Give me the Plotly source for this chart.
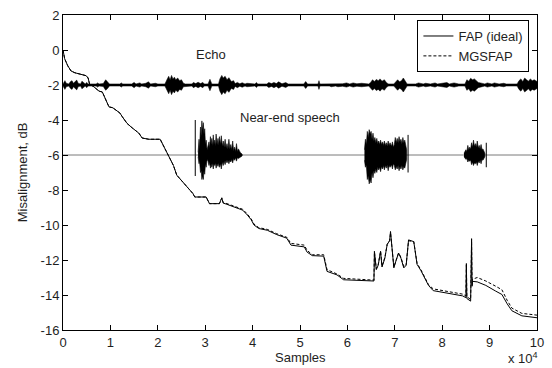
import plotly.graph_objects as go

# ---------------- data (x in units of 1e4 samples, y in dB) ----------------
fap_x = [0, 0.035, 0.1, 0.17, 0.25, 0.35, 0.49, 0.53, 0.56, 0.65, 0.76, 0.83, 0.9, 0.97,
         1.05, 1.11, 1.2, 1.25, 1.35, 1.46, 1.6, 1.67, 1.81, 2.05, 2.12, 2.19, 2.26, 2.33,
         2.40, 2.5, 2.64, 2.74, 2.78, 3.02, 3.09, 3.3, 3.35, 3.38, 3.44, 3.61, 3.79, 3.89,
         3.97, 4.03, 4.13, 4.31, 4.51, 4.72, 4.81, 5.09, 5.15, 5.26, 5.5, 5.57, 5.78, 5.92,
         6.35, 6.56, 6.57, 6.61, 6.65, 6.7, 6.73, 6.79, 6.84, 6.89, 6.91, 6.94, 6.98, 7.03,
         7.08, 7.13, 7.19, 7.24, 7.29, 7.4, 7.47, 7.55, 7.64, 7.71, 7.81, 8.01, 8.43, 8.5,
         8.51, 8.52, 8.6, 8.62, 8.63, 8.64, 8.74, 8.92, 9.13, 9.26, 9.37, 9.47, 9.68, 10.0]
fap_y = [0.0, -0.5, -0.9, -1.2, -1.3, -1.38, -1.47, -1.6, -1.94, -2.1, -2.35, -2.4, -2.85, -3.25,
         -3.3, -3.44, -3.6, -3.81, -4.19, -4.45, -4.75, -5.03, -5.1, -5.1, -5.5, -5.9, -6.3, -6.6,
         -7.15, -7.45, -7.85, -8.2, -8.4, -8.4, -8.78, -8.78, -8.45, -8.75, -8.8, -8.97, -9.15, -9.43,
         -9.7, -10.0, -10.2, -10.3, -10.55, -10.75, -11.15, -11.25, -11.55, -11.75, -11.78, -12.65, -12.85, -13.13,
         -13.17, -13.2, -11.5, -12.55, -12.3, -11.5, -12.4, -11.9, -11.1, -10.9, -10.37, -11.2, -12.45, -12.0,
         -11.6, -11.9, -12.45, -12.3, -10.85, -10.95, -12.25, -12.6, -13.1, -13.45, -13.75, -13.85, -14.05, -14.15,
         -12.2, -14.2, -14.35, -10.78, -13.5, -13.22, -13.25, -13.45, -13.78, -13.97, -14.5, -14.9, -15.19, -15.3]
mgs_y = [0.0, -0.5, -0.9, -1.2, -1.3, -1.38, -1.47, -1.6, -1.94, -2.1, -2.35, -2.4, -2.85, -3.25,
         -3.3, -3.44, -3.6, -3.81, -4.19, -4.45, -4.75, -5.03, -5.1, -5.1, -5.5, -5.9, -6.3, -6.6,
         -7.15, -7.45, -7.85, -8.2, -8.4, -8.4, -8.78, -8.78, -8.45, -8.72, -8.76, -8.92, -9.1, -9.38,
         -9.65, -9.95, -10.15, -10.25, -10.5, -10.7, -11.05, -11.15, -11.45, -11.7, -11.7, -12.55, -12.8, -13.05,
         -13.1, -13.15, -11.55, -12.5, -12.25, -11.5, -12.35, -11.85, -11.1, -10.9, -10.45, -11.2, -12.4, -12.0,
         -11.6, -11.85, -12.4, -12.25, -10.9, -10.95, -12.2, -12.55, -13.0, -13.4, -13.65, -13.75, -13.95, -14.05,
         -12.3, -14.1, -14.25, -11.0, -13.4, -13.1, -13.0, -13.2, -13.5, -13.7, -14.3, -14.75, -15.05, -15.15]

# Echo signal envelope (centre -2 dB): position and half-amplitude
echo_level = -2
echo_x = [0, 0.02, 0.04, 0.07, 0.12, 0.16, 0.19, 0.22, 0.26, 0.29, 0.32, 0.37, 0.4, 0.43, 0.47,
          0.5, 0.53, 0.7, 0.73, 0.76, 0.85, 0.9, 0.94, 0.98, 1.2, 1.23, 1.26, 1.45, 1.5, 1.54,
          1.62, 1.66, 1.75, 1.8, 1.85, 1.95, 2.0, 2.15, 2.2, 2.23, 2.26, 2.29, 2.32, 2.35, 2.38,
          2.42, 2.46, 2.5, 2.54, 2.58, 2.72, 2.75, 2.8, 2.85, 2.9, 2.95, 2.98, 3.06, 3.1, 3.14,
          3.28, 3.31, 3.35, 3.38, 3.42, 3.46, 3.5, 3.55, 3.6, 3.63, 3.68, 3.73, 3.78, 3.84, 3.88,
          4.05, 4.08, 4.11, 4.3, 4.34, 4.4, 4.45, 4.5, 4.55, 4.62, 4.7, 4.75, 5.08, 5.12, 5.16,
          5.38, 5.4, 5.42, 5.62, 5.66, 5.75, 5.8, 5.9, 5.98, 6.05, 6.12, 6.2, 6.3, 6.45, 6.49,
          6.53, 6.57, 6.61, 6.65, 6.69, 6.73, 6.78, 6.83, 6.87, 6.98, 7.02, 7.06, 7.1, 7.14, 7.18,
          7.22, 7.26, 7.44, 7.5, 7.6, 7.65, 7.75, 7.85, 7.9, 8.0, 8.1, 8.15, 8.25, 8.35, 8.48,
          8.52, 8.56, 8.6, 8.64, 8.68, 8.72, 8.76, 8.9, 8.95, 9.05, 9.1, 9.2, 9.3, 9.35, 9.58,
          9.62, 9.66, 9.7, 9.74, 9.78, 9.82, 9.86, 9.9, 9.94, 10.0]
echo_amp = [0.06, 0.15, 0.25, 0.1, 0.06, 0.2, 0.25, 0.1, 0.22, 0.28, 0.1, 0.06, 0.22, 0.15, 0.06,
            0.15, 0.06, 0.06, 0.12, 0.06, 0.08, 0.3, 0.2, 0.06, 0.06, 0.12, 0.06, 0.06, 0.15, 0.06,
            0.12, 0.06, 0.1, 0.18, 0.06, 0.1, 0.06, 0.06, 0.35, 0.5, 0.3, 0.55, 0.35, 0.45, 0.3,
            0.4, 0.25, 0.3, 0.1, 0.06, 0.06, 0.15, 0.08, 0.16, 0.08, 0.15, 0.06, 0.06, 0.33, 0.06,
            0.06, 0.35, 0.55, 0.4, 0.5, 0.3, 0.42, 0.2, 0.25, 0.08, 0.15, 0.07, 0.13, 0.06, 0.1,
            0.06, 0.14, 0.06, 0.06, 0.14, 0.08, 0.15, 0.08, 0.18, 0.07, 0.14, 0.06, 0.06, 0.2, 0.06,
            0.06, 0.25, 0.06, 0.06, 0.1, 0.06, 0.1, 0.07, 0.12, 0.06, 0.12, 0.07, 0.1, 0.06, 0.15,
            0.3, 0.2, 0.32, 0.25, 0.35, 0.22, 0.3, 0.12, 0.06, 0.06, 0.2, 0.3, 0.18, 0.25, 0.4,
            0.2, 0.06, 0.06, 0.12, 0.06, 0.1, 0.06, 0.12, 0.06, 0.1, 0.14, 0.06, 0.12, 0.06, 0.06,
            0.3, 0.22, 0.38, 0.3, 0.35, 0.25, 0.15, 0.06, 0.12, 0.06, 0.12, 0.06, 0.1, 0.06, 0.06,
            0.25, 0.35, 0.2, 0.4, 0.3, 0.22, 0.35, 0.25, 0.3, 0.2]

# Near-end speech (centre -6 dB): three bursts, upper / lower envelope
speech_level = -6
sp1_x = [2.85, 2.87, 2.88, 2.9, 2.915, 2.93, 2.945, 2.96, 2.975, 2.99, 3.005, 3.02, 3.04, 3.06,
         3.08, 3.095, 3.11, 3.125, 3.14, 3.155, 3.17, 3.185, 3.2, 3.215, 3.23, 3.25, 3.27, 3.285,
         3.3, 3.32, 3.34, 3.36, 3.38, 3.4, 3.42, 3.44, 3.46, 3.48, 3.5, 3.52, 3.54, 3.56, 3.58,
         3.6, 3.62, 3.64, 3.66, 3.68, 3.7, 3.74, 3.78]
sp1_up = [0.15, 0.9, 0.3, 1.6, 1.1, 1.95, 1.4, 1.85, 1.2, 1.5, 0.6, 0.85, 0.3, 0.5,
          0.75, 0.4, 1.05, 0.6, 0.95, 0.5, 1.15, 0.6, 0.85, 0.5, 1.2, 0.6, 0.95, 0.55,
          1.05, 0.6, 1.1, 0.5, 0.8, 0.45, 0.9, 0.4, 0.65, 0.35, 0.9, 0.35, 0.6, 0.3, 0.8,
          0.25, 0.45, 0.2, 0.65, 0.2, 0.35, 0.15, 0.05]
sp1_dn = [0.1, 0.5, 0.3, 1.0, 0.9, 1.4, 1.2, 1.4, 0.9, 1.1, 0.5, 0.7, 0.25, 0.35,
          0.6, 0.4, 0.75, 0.5, 0.7, 0.45, 0.8, 0.5, 0.6, 0.45, 0.75, 0.5, 0.65, 0.45,
          0.7, 0.5, 0.8, 0.4, 0.6, 0.35, 0.55, 0.3, 0.45, 0.3, 0.5, 0.3, 0.4, 0.25, 0.45,
          0.2, 0.3, 0.15, 0.35, 0.15, 0.2, 0.15, 0.05]
sp2_x = [6.36, 6.38, 6.4, 6.42, 6.44, 6.46, 6.48, 6.5, 6.52, 6.54, 6.56, 6.58, 6.6, 6.62,
         6.64, 6.66, 6.68, 6.7, 6.72, 6.74, 6.76, 6.78, 6.8, 6.82, 6.84, 6.86, 6.88, 6.9,
         6.93, 6.95, 6.97, 6.99, 7.01, 7.03, 7.05, 7.07, 7.09, 7.11, 7.13, 7.15, 7.17, 7.19,
         7.21, 7.23, 7.25]
sp2_up = [0.3, 0.9, 0.6, 1.35, 1.0, 1.45, 1.2, 1.35, 0.9, 1.25, 0.8, 1.0, 0.7, 0.95,
          0.65, 0.8, 0.6, 0.85, 0.6, 0.75, 0.55, 0.8, 0.55, 0.7, 0.5, 0.8, 0.55, 0.7,
          0.5, 0.75, 0.45, 0.6, 1.0, 0.7, 0.95, 0.7, 1.05, 0.75, 0.9, 0.65, 1.0, 0.7,
          0.85, 0.5, 0.3]
sp2_dn = [0.3, 0.7, 0.6, 1.4, 1.2, 1.65, 1.4, 1.6, 1.0, 1.3, 0.9, 1.05, 0.8, 1.0,
          0.7, 0.85, 0.7, 0.95, 0.65, 0.8, 0.6, 0.85, 0.6, 0.75, 0.55, 0.9, 0.6, 0.7,
          0.55, 0.8, 0.5, 0.6, 0.85, 0.65, 0.8, 0.6, 0.9, 0.65, 0.8, 0.6, 0.85, 0.65,
          0.75, 0.45, 0.25]
sp3_x = [8.46, 8.5, 8.52, 8.54, 8.56, 8.58, 8.6, 8.62, 8.64, 8.66, 8.68, 8.7, 8.72, 8.74,
         8.76, 8.78, 8.8, 8.82, 8.84, 8.86, 8.9]
sp3_up = [0.1, 0.3, 0.2, 0.55, 0.3, 0.45, 0.35, 0.7, 0.45, 0.85, 0.5, 0.65, 0.45, 0.8,
          0.4, 0.55, 0.35, 0.6, 0.3, 0.35, 0.1]
sp3_dn = [0.1, 0.25, 0.2, 0.4, 0.3, 0.35, 0.3, 0.55, 0.4, 0.6, 0.45, 0.5, 0.4, 0.6,
          0.35, 0.45, 0.3, 0.5, 0.25, 0.3, 0.1]
spike_x = [2.79, 7.28, 8.93]
spike_top = [-4.0, -4.85, -5.3]
spike_bot = [-7.2, -7.0, -6.7]

x_ticks = [0, 1, 2, 3, 4, 5, 6, 7, 8, 9, 10]
y_ticks = [2, 0, -2, -4, -6, -8, -10, -12, -14, -16]

FONT = "Liberation Sans, Arial, sans-serif"
TXT = "#1e1e1e"

fig = go.Figure()

# speech baseline (silence) in grey
fig.add_trace(go.Scatter(x=[0, 10], y=[speech_level, speech_level], mode="lines",
                         line=dict(color="#7a7a7a", width=1), showlegend=False, hoverinfo="skip"))


def envelope(xs, up, dn, level):
    px = list(xs) + list(xs[::-1])
    py = [level + u for u in up] + [level - d for d in dn[::-1]]
    return px, py


for xs, up, dn in [(sp1_x, sp1_up, sp1_dn), (sp2_x, sp2_up, sp2_dn), (sp3_x, sp3_up, sp3_dn)]:
    px, py = envelope(xs, up, dn, speech_level)
    fig.add_trace(go.Scatter(x=px, y=py, mode="lines", fill="toself", fillcolor="black",
                             line=dict(color="black", width=0.6), showlegend=False, hoverinfo="skip"))

sx, sy = [], []
for x, t, b in zip(spike_x, spike_top, spike_bot):
    sx += [x, x, None]
    sy += [t, b, None]
fig.add_trace(go.Scatter(x=sx, y=sy, mode="lines", line=dict(color="black", width=1),
                         showlegend=False, hoverinfo="skip"))

# echo envelope
px, py = envelope(echo_x, echo_amp, echo_amp, echo_level)
fig.add_trace(go.Scatter(x=px, y=py, mode="lines", fill="toself", fillcolor="black",
                         line=dict(color="black", width=0.5), showlegend=False, hoverinfo="skip"))

# misalignment curves
fig.add_trace(go.Scatter(x=fap_x, y=fap_y, mode="lines", name="FAP (ideal)",
                         line=dict(color="black", width=1)))
fig.add_trace(go.Scatter(x=fap_x, y=mgs_y, mode="lines", name="MGSFAP",
                         line=dict(color="black", width=1, dash="3px,2px")))

axis_common = dict(showline=True, linecolor="black", linewidth=1, mirror="ticks",
                   ticks="inside", ticklen=5, tickcolor="black", showgrid=False, zeroline=False,
                   tickfont=dict(family=FONT, size=13, color=TXT))

fig.update_xaxes(range=[0, 10], tickmode="array", tickvals=x_ticks,
                 ticktext=[str(v) for v in x_ticks], **axis_common)
fig.update_yaxes(range=[-16, 2], tickmode="array", tickvals=y_ticks,
                 ticktext=[str(v) for v in y_ticks], **axis_common)

fig.add_annotation(x=3.12, y=-0.25, text="Echo", showarrow=False,
                   font=dict(family=FONT, size=13, color=TXT))
fig.add_annotation(x=4.79, y=-3.85, text="Near-end speech", showarrow=False,
                   font=dict(family=FONT, size=13, color=TXT))
fig.add_annotation(x=0.5, y=-0.087, xref="paper", yref="paper", text="Samples", showarrow=False,
                   xanchor="center", yanchor="middle", font=dict(family=FONT, size=13, color=TXT))
fig.add_annotation(x=-0.085, y=0.5, xref="paper", yref="paper", text="Misalignment, dB",
                   showarrow=False, textangle=-90, xanchor="center", yanchor="middle",
                   font=dict(family=FONT, size=13, color=TXT))
fig.add_annotation(x=0.935, y=-0.09, xref="paper", yref="paper", text="x 10<sup>4</sup>",
                   showarrow=False, xanchor="left", yanchor="middle",
                   font=dict(family=FONT, size=13, color=TXT))

fig.update_layout(
    width=552, height=368,
    margin=dict(l=63, r=8, t=10, b=38),
    paper_bgcolor="white", plot_bgcolor="white",
    font=dict(family=FONT, size=13, color=TXT),
    legend=dict(x=0.984, y=0.984, xanchor="right", yanchor="top", bgcolor="white",
                bordercolor="black", borderwidth=1, itemwidth=30,
                font=dict(family=FONT, size=13, color=TXT),
                tracegroupgap=0),
)

fig.write_html("out.html")
